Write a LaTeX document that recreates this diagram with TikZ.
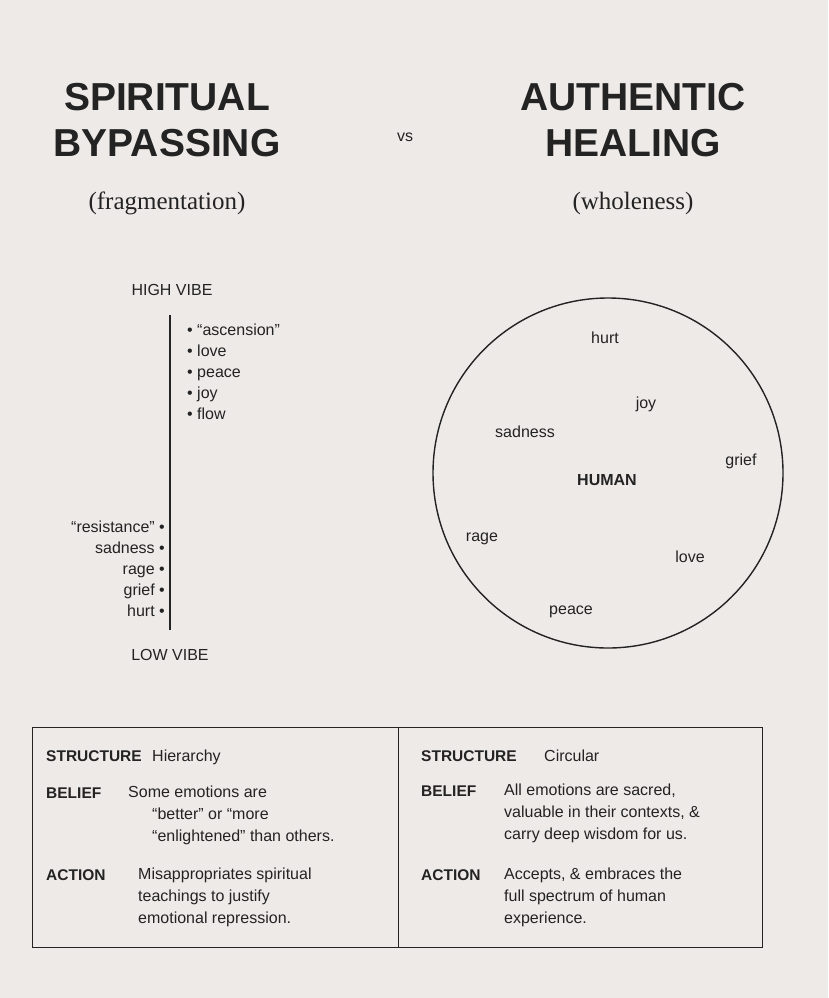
\documentclass[tikz,border=0pt]{standalone}
\usepackage{fontspec}
\setmainfont{Liberation Serif}
\setsansfont{Liberation Sans}
\definecolor{bgcolor}{RGB}{238,234,232}
\definecolor{ink}{RGB}{35,35,35}
\tikzset{
  title/.style={font=\sffamily\bfseries\fontsize{39}{46}\selectfont,text=ink,align=center},
  sub/.style={font=\fontsize{25}{28}\selectfont,text=ink},
  lbl/.style={font=\sffamily\fontsize{16}{18}\selectfont,text=ink},
  item/.style={lbl,anchor=west,inner sep=0pt,text height=11pt,text depth=3pt},
  ritem/.style={lbl,anchor=east,inner sep=0pt,text height=11pt,text depth=3pt},
  key/.style={lbl,font=\sffamily\bfseries\fontsize{15.5}{18}\selectfont,anchor=west,inner sep=0pt,text height=11pt,text depth=3pt},
  body/.style={lbl,anchor=north west,align=left,inner sep=0pt,font=\sffamily\fontsize{16}{22}\selectfont}
}
\begin{document}
\begin{tikzpicture}[x=1pt,y=-1pt]
		\fill[bgcolor] (0,0) rectangle (828,998);
		\useasboundingbox (0,0) rectangle (828,998);
		% titles
		\node[title] (sb) at (167,120) {SPIRITUAL\\BYPASSING};
		\node[lbl] (vs) at (405,137) {vs};
		\node[title] (ah) at (633,120) {AUTHENTIC\\HEALING};
		\node[sub] (frag) at (167,203) {(fragmentation)};
		\node[sub] (whole) at (633,203) {(wholeness)};
		% hierarchy
		\node[lbl] (high) at (172,290) {HIGH VIBE};
		\node[lbl] (low) at (170,655) {LOW VIBE};
		\coordinate (top) at (170,315);
		\coordinate (bot) at (170,630);
		\draw[ink,line width=1.6pt] (top)--(bot);
		\foreach \w [count=\i] in {``ascension'',love,peace,joy,flow}
			\node[item] (up\i) at (187,310+21*\i) {\textbullet\ \w};
		\foreach \w [count=\i] in {``resistance'',sadness,rage,grief,hurt}
			\node[ritem] (dn\i) at (165,507+21*\i) {\w\ \textbullet};
		% circle
		\node[draw=ink,line width=1.4pt,circle,minimum size=350pt] (ring) at (608,473) {};
		\node[lbl,font=\sffamily\bfseries\fontsize{16}{18}\selectfont] (human) at (607,480) {HUMAN};
		\node[lbl] (e1) at (605,338) {hurt};
		\node[lbl] (e2) at (646,404) {joy};
		\node[lbl] (e3) at (525,432) {sadness};
		\node[lbl] (e4) at (741,461) {grief};
		\node[lbl] (e5) at (482,539) {rage};
		\node[lbl] (e6) at (690,557) {love};
		\node[lbl] (e7) at (571,612) {peace};
		% table
		\draw[ink,line width=1pt] (32,727) rectangle (762,947);
		\draw[ink,line width=1pt] (398,727)--(398,947);
		\node[key] (ls) at (46,757) {STRUCTURE};
		\node[item] (lsv) at (152,757) {Hierarchy};
		\node[key] (lb) at (46,794) {BELIEF};
		\node[body] (lbv) at (128,786) {Some emotions are\\\hspace*{1.5em}``better'' or ``more\\\hspace*{1.5em}``enlightened'' than others.};
		\node[key] (la) at (46,876) {ACTION};
		\node[body] (lav) at (138,868) {Misappropriates spiritual\\teachings to justify\\emotional repression.};
		\node[key] (rs) at (421,757) {STRUCTURE};
		\node[item] (rsv) at (544,757) {Circular};
		\node[key] (rb) at (421,792) {BELIEF};
		\node[body] (rbv) at (504,784) {All emotions are sacred,\\valuable in their contexts, \&\\carry deep wisdom for us.};
		\node[key] (ra) at (421,876) {ACTION};
		\node[body] (rav) at (504,868) {Accepts, \& embraces the\\full spectrum of human\\experience.};
\end{tikzpicture}
\end{document}
